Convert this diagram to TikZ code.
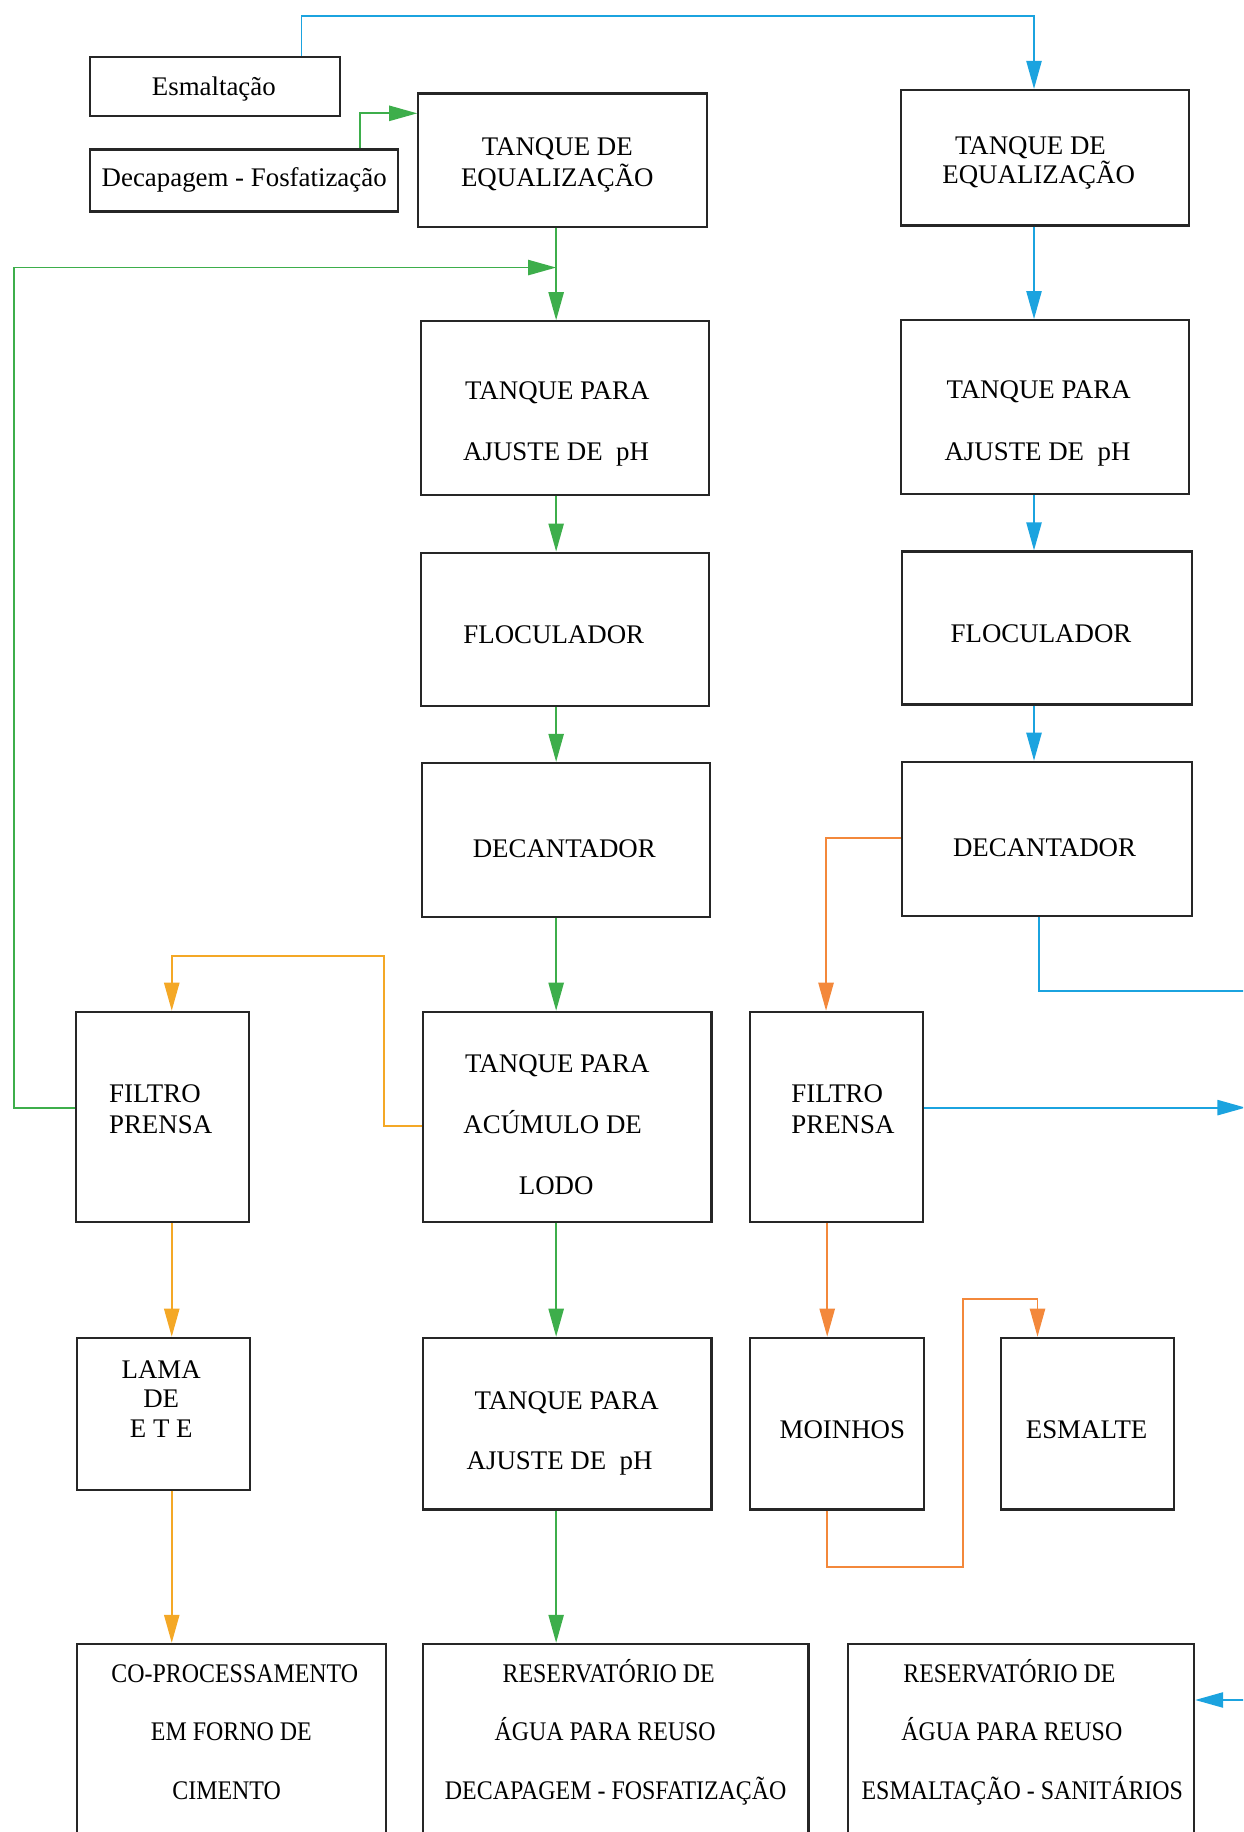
\documentclass[tikz,border=0pt]{standalone}
\usepackage{fontspec}
\setmainfont{Liberation Serif}
\newfontfamily\narrowserif[FakeStretch=0.89]{Liberation Serif}
\usetikzlibrary{arrows.meta,calc}

\definecolor{flowgreen}{HTML}{3DAE4B}
\definecolor{flowblue}{HTML}{1BA3DF}
\definecolor{flowamber}{HTML}{F4A826}
\definecolor{floworange}{HTML}{F3883B}

\tikzset{
  blk/.style={draw=black!85, line width=0.9pt, inner sep=0pt, rectangle},
  lbl/.style={anchor=base, inner sep=0pt, font=\fontsize{11.5}{13}\selectfont},
  lbll/.style={lbl, anchor=base west},
  nlbl/.style={lbl, font=\narrowserif\fontsize{11.5}{13}\selectfont},
  flow/.style={line width=0.8pt, -{Triangle[length=12pt,width=6.5pt]}},
  garr/.style={flow, draw=flowgreen},
  barr/.style={flow, draw=flowblue},
  aarr/.style={flow, draw=flowamber},
  oarr/.style={flow, draw=floworange},
}

% box given by its corners: name, x1, y1, x2, y2
\newcommand\blkbox[5]{%
  \node[blk, minimum width={(#4-#2)*0.5pt}, minimum height={(#5-#3)*0.5pt}]
    (#1) at ({(#2+#4)/2},{(#3+#5)/2}) {};}

\begin{document}
\begin{tikzpicture}[x=0.5pt,y=-0.5pt]
\useasboundingbox (0,0) rectangle (1064,1568);
\clip (0,0) rectangle (1064,1568);

% ---------- boxes ----------
\blkbox{esm}{77}{49}{291}{99}
\blkbox{dec}{77}{128}{341}{181}
\blkbox{eqL}{358}{80}{605}{194}
\blkbox{eqR}{771}{77}{1018}{193}
\blkbox{tpL}{360}{275}{607}{424}
\blkbox{tpR}{771}{274}{1018}{423}
\blkbox{flL}{360}{473}{607}{604}
\blkbox{flR}{772}{472}{1020}{603}
\blkbox{decL}{361}{653}{608}{785}
\blkbox{decR}{772}{652}{1020}{784}
\blkbox{fpL}{65}{866}{213}{1046}
\blkbox{acL}{362}{866}{609}{1046}
\blkbox{fpR}{642}{866}{790}{1046}
\blkbox{lama}{66}{1145}{214}{1275}
\blkbox{tpB}{362}{1145}{609}{1292}
\blkbox{moi}{642}{1145}{791}{1292}
\blkbox{esm2}{857}{1145}{1005}{1292}
\blkbox{coP}{66}{1407}{330}{1620}
\blkbox{resL}{362}{1407}{692}{1620}
\blkbox{resR}{726}{1407}{1022}{1620}

% ---------- texts ----------
\node[lbl] (esm-t) at (183,82) {Esmaltação};
\node[lbl] (dec-t) at (209,160) {Decapagem - Fosfatização};

\node[lbl] (eqL-t1) at (477,133) {TANQUE DE};
\node[lbl] (eqL-t2) at (477,160) {EQUALIZAÇÃO};
\node[lbl] (eqR-t1) at (882,132) {TANQUE DE};
\node[lbl] (eqR-t2) at (889,157) {EQUALIZAÇÃO};

\node[lbl] (tpL-t1) at (477,342) {TANQUE PARA};
\node[lbl] (tpL-t2) at (476,394) {AJUSTE DE~ pH};
\node[lbl] (tpR-t1) at (889,341) {TANQUE PARA};
\node[lbl] (tpR-t2) at (888,394) {AJUSTE DE~ pH};

\node[lbl] (flL-t) at (474,551) {FLOCULADOR};
\node[lbl] (flR-t) at (891,550) {FLOCULADOR};
\node[lbl] (decL-t) at (483,734) {DECANTADOR};
\node[lbl] (decR-t) at (894,733) {DECANTADOR};

\node[lbll] (fpL-t1) at (93,944) {FILTRO};
\node[lbll] (fpL-t2) at (93,970) {PRENSA};
\node[lbll] (fpR-t1) at (677,944) {FILTRO};
\node[lbll] (fpR-t2) at (677,970) {PRENSA};

\node[lbl] (acL-t1) at (477,918) {TANQUE PARA};
\node[lbl] (acL-t2) at (473,970) {ACÚMULO DE};
\node[lbl] (acL-t3) at (476,1022) {LODO};

\node[lbl] (lama-t1) at (138,1180) {LAMA};
\node[lbl] (lama-t2) at (138,1205) {DE};
\node[lbl] (lama-t3) at (138,1230) {E T E};

\node[lbl] (tpB-t1) at (485,1206) {TANQUE PARA};
\node[lbl] (tpB-t2) at (479,1258) {AJUSTE DE~ pH};

\node[lbl] (moi-t) at (721,1231) {MOINHOS};
\node[lbl] (esm2-t) at (930,1231) {ESMALTE};

\node[nlbl] (coP-t1) at (201,1440) {CO-PROCESSAMENTO};
\node[nlbl] (coP-t2) at (198,1490) {EM FORNO DE};
\node[nlbl] (coP-t3) at (194,1540) {CIMENTO};

\node[nlbl] (resL-t1) at (521,1440) {RESERVATÓRIO DE};
\node[nlbl] (resL-t2) at (518,1490) {ÁGUA PARA REUSO};
\node[nlbl] (resL-t3) at (527,1540) {DECAPAGEM - FOSFATIZAÇÃO};

\node[nlbl] (resR-t1) at (864,1440) {RESERVATÓRIO DE};
\node[nlbl] (resR-t2) at (866,1490) {ÁGUA PARA REUSO};
\node[nlbl] (resR-t3) at (875,1540) {ESMALTAÇÃO - SANITÁRIOS};

% ---------- reference points for the connectors ----------
\coordinate (cxL) at (476,0);
\coordinate (cxR) at (885,0);
\coordinate (yfp) at (0,948);
\coordinate (yac) at (0,964);
\coordinate (yres) at (0,1455);
\coordinate (bTop) at (258,14);
\coordinate (bDec) at (889,848);
\coordinate (bEdge) at (1066,848);
\coordinate (gDec) at (308,97);
\coordinate (gLoop) at (12,229);
\coordinate (aBend) at (329,818);
\coordinate (axL) at (147,0);
\coordinate (oBend) at (707,717);
\coordinate (oxR) at (708,0);
\coordinate (oLow) at (824,1341);
\coordinate (oHigh) at (888,1112);

% ---------- blue line (enamelling effluent) ----------
\draw[barr] (esm.north -| bTop) -- (bTop) -| (eqR.north -| cxR);
\draw[barr] (eqR.south -| cxR) -- (tpR.north -| cxR);
\draw[barr] (tpR.south -| cxR) -- (flR.north -| cxR);
\draw[barr] (flR.south -| cxR) -- (decR.north -| cxR);
\draw[barr] (decR.south -| bDec) |- (bEdge) |- (resR.east |- yres);
\draw[barr] (fpR.east |- yfp) -- (bEdge |- yfp);

% ---------- green line (pickling / phosphating effluent) ----------
\draw[garr] (dec.north -| gDec) |- (eqL.west |- gDec);
\draw[garr] (eqL.south -| cxL) -- (tpL.north -| cxL);
\draw[garr] (tpL.south -| cxL) -- (flL.north -| cxL);
\draw[garr] (flL.south -| cxL) -- (decL.north -| cxL);
\draw[garr] (decL.south -| cxL) -- (acL.north -| cxL);
\draw[garr] (acL.south -| cxL) -- (tpB.north -| cxL);
\draw[garr] (tpB.south -| cxL) -- (resL.north -| cxL);
\draw[garr] (fpL.west |- yfp) -| (gLoop) -- (gLoop -| cxL);

% ---------- sludge lines ----------
\draw[aarr] (acL.west |- yac) -| (aBend) -| (fpL.north -| axL);
\draw[aarr] (fpL.south -| axL) -- (lama.north -| axL);
\draw[aarr] (lama.south -| axL) -- (coP.north -| axL);

\draw[oarr] (decR.west |- oBend) -| (fpR.north -| oBend);
\draw[oarr] (fpR.south -| oxR) -- (moi.north -| oxR);
\draw[oarr] (moi.south -| oxR) |- (oLow) |- (oHigh) -- (esm2.north -| oHigh);

\end{tikzpicture}
\end{document}
